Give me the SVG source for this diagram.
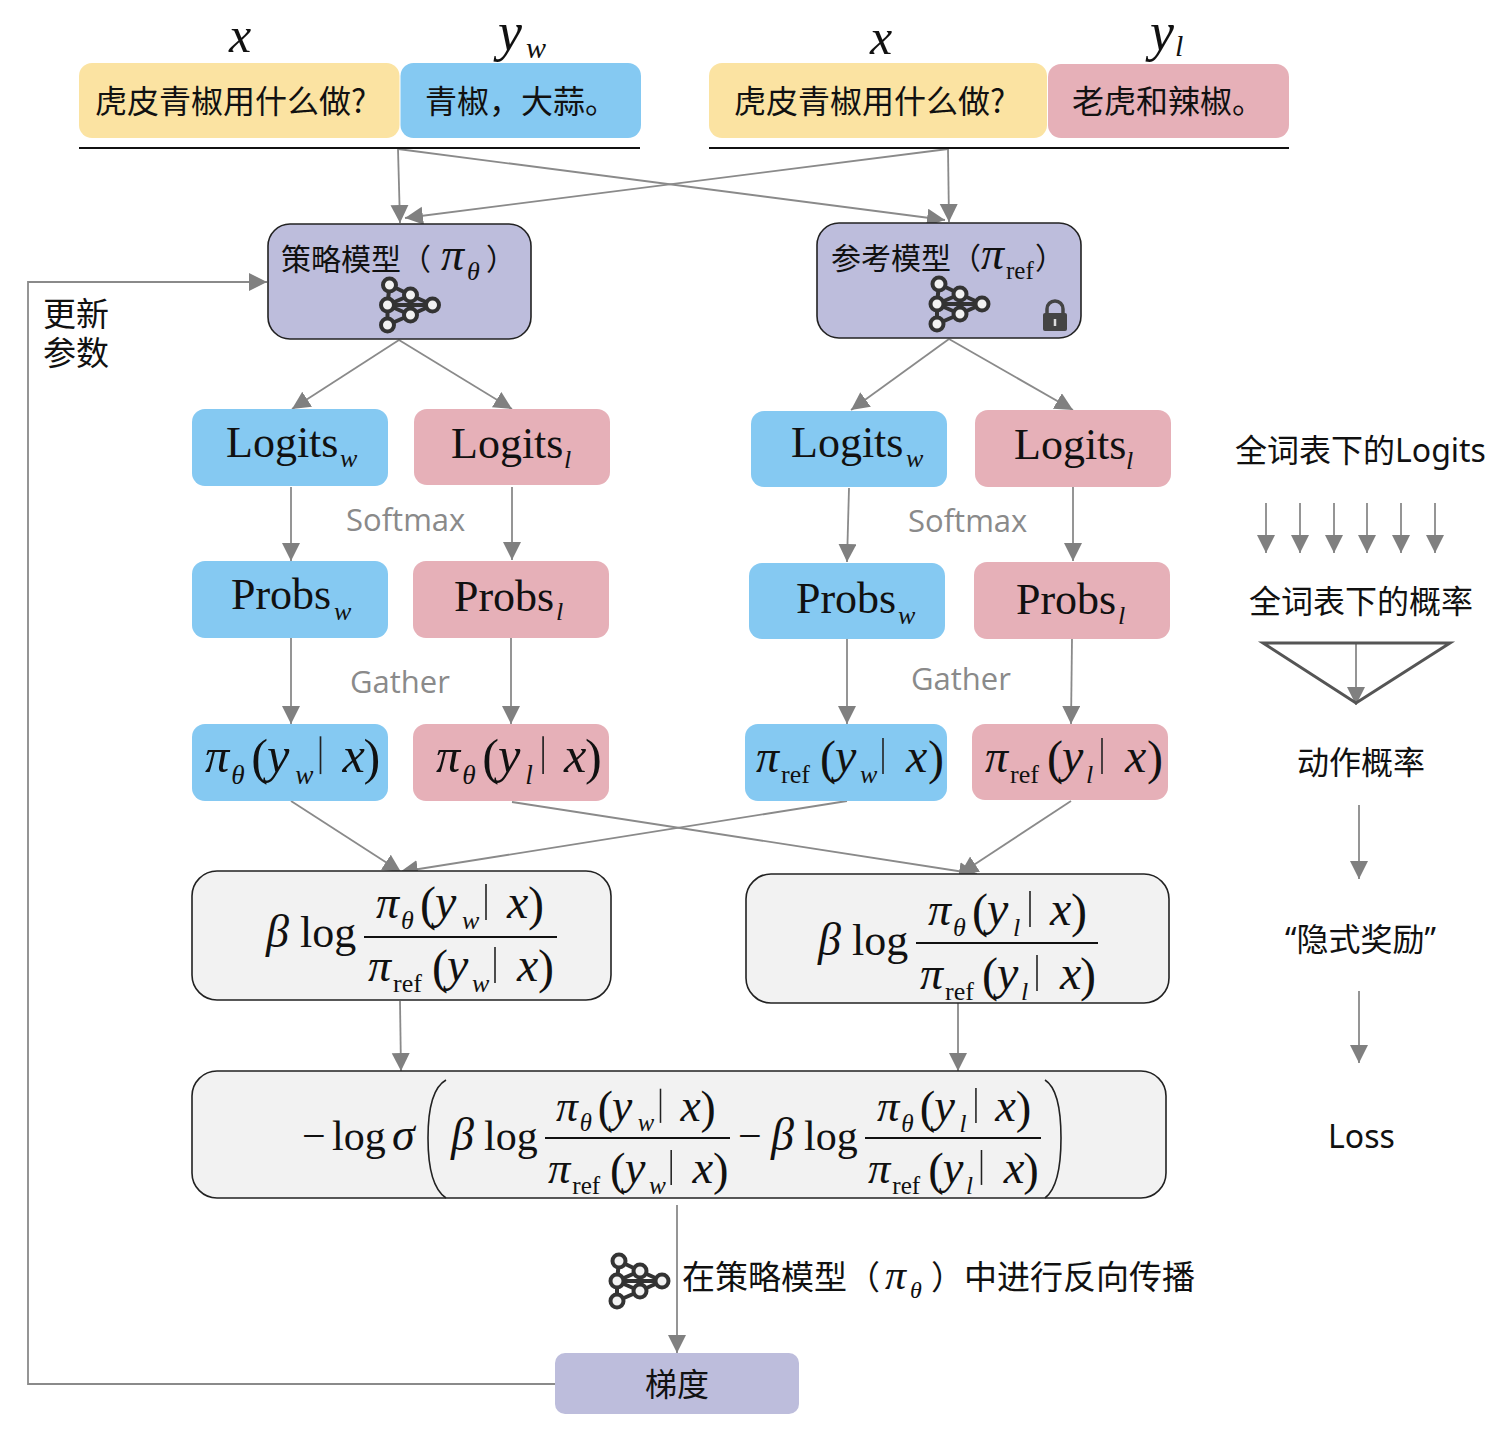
<svg xmlns="http://www.w3.org/2000/svg" xmlns:xlink="http://www.w3.org/1999/xlink" width="1508" height="1448" viewBox="0 0 1508 1448">
<style>
text{fill:#111}
.c{font-family:"Noto Sans CJK SC","Noto Sans",sans-serif;font-size:32px}
.g{font-family:"Open Sans","Noto Sans",sans-serif;font-size:31px;fill:#8a8a8a}
.t{font-family:"Noto Sans",sans-serif;font-size:32px}
.i{font-family:"Liberation Serif",serif;font-style:italic;font-size:46px}
.y{font-family:"Liberation Serif",serif;font-style:italic;font-size:48px}
.r{font-family:"Liberation Serif",serif;font-size:48px}
.n{font-family:"Liberation Serif",serif;font-size:44px}
.s{font-family:"Liberation Serif",serif;font-style:italic;font-size:26px}
.u{font-family:"Liberation Serif",serif;font-size:26px}
.b{stroke:#222;stroke-width:1.6;fill:none}
.bl{fill:#85c9f2}.pk{fill:#e6b0b8}.ye{fill:#fbe3a2}
.la{fill:#bdbddc}.gr{fill:#f2f2f2;stroke:#222;stroke-width:1.6}
.net line{stroke:#333;stroke-width:4}
.net circle{fill:#f2f2f2;stroke:#333;stroke-width:4}
.ar{fill:none;stroke:#8a8a8a;stroke-width:1.8;marker-end:url(#a)}
</style>
<defs>
<marker id="a" markerUnits="userSpaceOnUse" markerWidth="20" markerHeight="20" refX="18" refY="9" orient="auto"><path d="M0 0L18 9L0 18Z" fill="#808080"/></marker>
<g id="netshape" class="net">
<line x1="2" y1="-20" x2="0" y2="0"/><line x1="2" y1="-20" x2="23" y2="-10"/><line x1="0" y1="0" x2="23" y2="-10"/><line x1="0" y1="0" x2="23" y2="10"/><line x1="23" y1="-10" x2="23" y2="10"/><line x1="23" y1="-10" x2="45" y2="0"/><line x1="23" y1="10" x2="45" y2="0"/><line x1="0" y1="0" x2="0" y2="20"/><line x1="0" y1="20" x2="23" y2="10"/><line x1="0" y1="0" x2="45" y2="0"/>
<circle cx="2" cy="-20" r="6.500"/><circle cx="23" cy="-10" r="6.500"/><circle cx="0" cy="0" r="6.500"/><circle cx="45" cy="0" r="6.500"/><circle cx="23" cy="10" r="6.500"/><circle cx="0" cy="20" r="6.500"/>
</g>
</defs>
<rect width="1508" height="1448" fill="#fff"/>
<g id="connectors">
<path class="ar" d="M398 149L400 223"/>
<path class="ar" d="M398 149L945 220"/>
<path class="ar" d="M948 149L405 218"/>
<path class="ar" d="M948 149L949 222"/>
<path class="ar" d="M399 340L292 409"/>
<path class="ar" d="M399 340L512 409"/>
<path class="ar" d="M949 339L851 410"/>
<path class="ar" d="M949 339L1073 410"/>
<path class="ar" d="M291 487V561"/>
<path class="ar" d="M512 487V560"/>
<path class="ar" d="M849 488L847 562"/>
<path class="ar" d="M1073 487V561"/>
<path class="ar" d="M291 638V724"/>
<path class="ar" d="M511 638V724"/>
<path class="ar" d="M847 639V724"/>
<path class="ar" d="M1072 639L1071 724"/>
<path class="ar" d="M291 801L401 872"/>
<path class="ar" d="M847 801L400 872"/>
<path class="ar" d="M512 802L977 874"/>
<path class="ar" d="M1071 801L960 874"/>
<path class="ar" d="M400 1001L401 1071"/>
<path class="ar" d="M958 1003V1071"/>
<path class="ar" d="M677 1205V1353"/>
<path class="ar" d="M555 1384H28V282H267"/>
<path class="ar" d="M1266 503V553"/>
<path class="ar" d="M1300 503V553"/>
<path class="ar" d="M1334 503V553"/>
<path class="ar" d="M1367 503V553"/>
<path class="ar" d="M1401 503V553"/>
<path class="ar" d="M1435 503V553"/>
<path class="ar" d="M1356 643V705"/>
<path class="ar" d="M1359 805V879"/>
<path class="ar" d="M1359 991V1063"/>
</g>
<g id="top-left">
<rect class="ye" x="79" y="63" width="320.500" height="75" rx="13"/>
<rect class="bl" x="400.500" y="63" width="240.500" height="75" rx="13"/>
<text class="c" x="95" y="113">虎皮青椒用什么做?</text>
<text class="c" x="425" y="113">青椒，大蒜。</text>
<path d="M79 148H640" stroke="#111" stroke-width="2"/>
<text class="i" style="font-size:50px" x="229" y="52">x</text>
<text class="i" style="font-size:54px" x="498" y="50">y</text>
<text class="s" style="font-size:30px" x="526" y="58">w</text>
</g>
<g id="top-right">
<rect class="ye" x="709" y="63" width="338" height="75" rx="13"/>
<rect class="pk" x="1048" y="64" width="241" height="74" rx="13"/>
<text class="c" x="734" y="113">虎皮青椒用什么做?</text>
<text class="c" x="1072" y="113">老虎和辣椒。</text>
<path d="M709 148H1289" stroke="#111" stroke-width="2"/>
<text class="i" style="font-size:50px" x="870" y="54">x</text>
<text class="i" style="font-size:54px" x="1150" y="50">y</text>
<text class="s" style="font-size:30px" x="1175" y="56">l</text>
</g>
<g id="policy">
<rect class="la" x="268" y="224" width="263" height="115" rx="22" stroke="#222" stroke-width="1.6"/>
<text class="c" style="font-size:30px" x="281" y="270">策略模型（</text>
<text class="i" x="441" y="270">π</text><text class="s" x="467" y="280">θ</text>
<text class="c" style="font-size:30px" x="486" y="270">）</text>
<use xlink:href="#netshape" href="#netshape" x="387.500" y="305"/>
</g>
<g id="reference">
<rect class="la" x="817" y="223" width="264" height="115" rx="22" stroke="#222" stroke-width="1.6"/>
<text class="c" style="font-size:30px" x="831" y="269">参考模型（</text>
<text class="i" x="981" y="269">π</text><text class="u" style="font-size:25px" x="1006" y="279">ref</text>
<text class="c" style="font-size:30px" x="1035" y="269">）</text>
<use xlink:href="#netshape" href="#netshape" x="937" y="304"/>
<path d="M1047 314V309a8 8 0 0 1 16 0V314" fill="none" stroke="#444" stroke-width="3.500"/>
<rect x="1043" y="313" width="24" height="18" rx="2" fill="#444"/>
<path d="M1055 319v7" stroke="#ddd" stroke-width="2.500"/>
</g>
<g id="logits">
<rect class="bl" x="192" y="409" width="196" height="77" rx="13"/>
<text class="n" x="226" y="457">Logits</text><text class="s" x="340" y="467">w</text>
<rect class="pk" x="414" y="409" width="196" height="76" rx="13"/>
<text class="n" x="451" y="458">Logits</text><text class="s" x="564" y="468">l</text>
<rect class="bl" x="751" y="411" width="196" height="76" rx="13"/>
<text class="n" x="791" y="457">Logits</text><text class="s" x="906" y="467">w</text>
<rect class="pk" x="975" y="410" width="196" height="77" rx="13"/>
<text class="n" x="1014" y="459">Logits</text><text class="s" x="1126" y="469">l</text>
</g>
<g id="probs">
<rect class="bl" x="192" y="561" width="196" height="77" rx="13"/>
<text class="n" x="231" y="609">Probs</text><text class="s" x="334" y="620">w</text>
<rect class="pk" x="413" y="561" width="196" height="77" rx="13"/>
<text class="n" x="454" y="611">Probs</text><text class="s" x="556" y="620">l</text>
<rect class="bl" x="749" y="563" width="196" height="76" rx="13"/>
<text class="n" x="796" y="613">Probs</text><text class="s" x="898" y="624">w</text>
<rect class="pk" x="974" y="562" width="196" height="77" rx="13"/>
<text class="n" x="1016" y="614">Probs</text><text class="s" x="1118" y="624">l</text>
</g>
<g id="operators">
<text class="g" x="346" y="531">Softmax</text>
<text class="g" x="908" y="532">Softmax</text>
<text class="g" x="350" y="693">Gather</text>
<text class="g" x="911" y="690">Gather</text>
</g>
<g id="action-probs">
<rect class="bl" x="192" y="724" width="196" height="77" rx="13"/>
<g transform="translate(205,772) scale(1.05)"><text class="i">π</text><text class="s" x="25" y="11">θ</text><text class="r" x="44" y="2">(</text><text class="y" x="59">y</text><text class="s" x="86" y="11">w</text><path class="b" d="M110-34V2"/><text class="y" x="131">x</text><text class="r" x="151" y="2">)</text></g>
<rect class="pk" x="413" y="724" width="196" height="77" rx="13"/>
<g transform="translate(436,772) scale(1.05)"><text class="i">π</text><text class="s" x="25" y="11">θ</text><text class="r" x="44" y="2">(</text><text class="y" x="59">y</text><text class="s" x="85" y="11">l</text><path class="b" d="M102-34V2"/><text class="y" x="122">x</text><text class="r" x="142" y="2">)</text></g>
<rect class="bl" x="745" y="724" width="202" height="77" rx="13"/>
<g transform="translate(756,772)"><text class="i">π</text><text class="u" x="25" y="11">ref</text><text class="r" x="64" y="2">(</text><text class="y" x="79">y</text><text class="s" x="104" y="11">w</text><path class="b" d="M127-34V2"/><text class="y" x="150">x</text><text class="r" x="172" y="2">)</text></g>
<rect class="pk" x="972" y="724" width="196" height="76" rx="13"/>
<g transform="translate(985,772)"><text class="i">π</text><text class="u" x="25" y="11">ref</text><text class="r" x="62" y="2">(</text><text class="y" x="77">y</text><text class="s" x="101" y="11">l</text><path class="b" d="M117-34V2"/><text class="y" x="140">x</text><text class="r" x="162" y="2">)</text></g>
</g>
<g id="ratio-w">
<rect class="gr" x="192" y="871" width="419" height="129" rx="25"/>
<text class="i" x="266" y="947">β</text><text class="n" x="300" y="947">log</text>
<path d="M364 937H557" stroke="#111" stroke-width="2"/>
<g transform="translate(376,918)"><text class="i">π</text><text class="s" x="25" y="11">θ</text><text class="r" x="44" y="2">(</text><text class="y" x="59">y</text><text class="s" x="86" y="11">w</text><path class="b" d="M110-34V2"/><text class="y" x="131">x</text><text class="r" x="152" y="2">)</text></g>
<g transform="translate(368,981)"><text class="i">π</text><text class="u" x="25" y="11">ref</text><text class="r" x="64" y="2">(</text><text class="y" x="79">y</text><text class="s" x="104" y="11">w</text><path class="b" d="M127-34V2"/><text class="y" x="149">x</text><text class="r" x="170" y="2">)</text></g>
</g>
<g id="ratio-l">
<rect class="gr" x="746" y="874" width="423" height="129" rx="25"/>
<text class="i" x="818" y="955">β</text><text class="n" x="852" y="955">log</text>
<path d="M916 943H1098" stroke="#111" stroke-width="2"/>
<g transform="translate(928,925)"><text class="i">π</text><text class="s" x="25" y="11">θ</text><text class="r" x="44" y="2">(</text><text class="y" x="59">y</text><text class="s" x="85" y="11">l</text><path class="b" d="M102-34V2"/><text class="y" x="122">x</text><text class="r" x="143" y="2">)</text></g>
<g transform="translate(920,989)"><text class="i">π</text><text class="u" x="25" y="11">ref</text><text class="r" x="62" y="2">(</text><text class="y" x="77">y</text><text class="s" x="101" y="11">l</text><path class="b" d="M117-34V2"/><text class="y" x="140">x</text><text class="r" x="160" y="2">)</text></g>
</g>
<g id="loss-formula">
<rect class="gr" x="192" y="1071" width="974" height="127" rx="25"/>
<text class="r" style="font-size:42px" x="302" y="1150">−</text><text class="n" style="font-size:42px" x="332" y="1150">log</text><text class="i" x="392" y="1150">σ</text>
<path class="b" d="M446 1080Q428 1090 428 1138Q428 1186 446 1198"/>
<text class="i" x="451" y="1150">β</text><text class="n" style="font-size:42px" x="484" y="1150">log</text>
<path d="M545 1138H730" stroke="#111" stroke-width="2"/>
<g transform="translate(556,1121) scale(.95)"><text class="i">π</text><text class="s" x="25" y="11">θ</text><text class="r" x="44" y="2">(</text><text class="y" x="59">y</text><text class="s" x="86" y="11">w</text><path class="b" d="M110-34V2"/><text class="y" x="131">x</text><text class="r" x="152" y="2">)</text></g>
<g transform="translate(548,1183) scale(.97)"><text class="i">π</text><text class="u" x="25" y="11">ref</text><text class="r" x="64" y="2">(</text><text class="y" x="79">y</text><text class="s" x="104" y="11">w</text><path class="b" d="M127-34V2"/><text class="y" x="149">x</text><text class="r" x="170" y="2">)</text></g>
<text class="r" style="font-size:42px" x="738" y="1150">−</text>
<text class="i" x="771" y="1150">β</text><text class="n" style="font-size:42px" x="804" y="1150">log</text>
<path d="M865 1138H1041" stroke="#111" stroke-width="2"/>
<g transform="translate(877,1121) scale(.97)"><text class="i">π</text><text class="s" x="25" y="11">θ</text><text class="r" x="44" y="2">(</text><text class="y" x="59">y</text><text class="s" x="85" y="11">l</text><path class="b" d="M102-34V2"/><text class="y" x="122">x</text><text class="r" x="143" y="2">)</text></g>
<g transform="translate(868,1183) scale(.97)"><text class="i">π</text><text class="u" x="25" y="11">ref</text><text class="r" x="62" y="2">(</text><text class="y" x="77">y</text><text class="s" x="101" y="11">l</text><path class="b" d="M117-34V2"/><text class="y" x="140">x</text><text class="r" x="160" y="2">)</text></g>
<path class="b" d="M1045 1080Q1061 1090 1061 1138Q1061 1186 1045 1198"/>
</g>
<g id="backprop">
<use xlink:href="#netshape" href="#netshape" x="617" y="1281"/>
<text class="c" style="font-size:33px" x="682" y="1289">在策略模型（</text>
<text class="i" style="font-size:42px" x="885" y="1289">π</text><text class="s" style="font-size:24px" x="910" y="1298">θ</text>
<text class="c" style="font-size:33px" x="931" y="1289">）中进行反向传播</text>
</g>
<g id="gradient">
<rect class="la" x="555" y="1353" width="244" height="61" rx="10"/>
<text class="c" x="677" y="1396" text-anchor="middle">梯度</text>
</g>
<g id="update-label">
<text class="c" style="font-size:33px"><tspan x="43" y="326">更新</tspan><tspan x="43" y="365">参数</tspan></text>
</g>
<g id="legend">
<text class="c" x="1235" y="462">全词表下的</text><text class="t" x="1395" y="462">Logits</text>
<text class="c" x="1249" y="613">全词表下的概率</text>
<path d="M1263 643H1450L1356 703Z" fill="none" stroke="#555" stroke-width="3"/>
<text class="c" x="1297" y="774">动作概率</text>
<text class="c" x="1285" y="951"><tspan style="font-family:'Noto Sans',sans-serif">“</tspan>隐式奖励<tspan style="font-family:'Noto Sans',sans-serif">”</tspan></text>
<text class="t" x="1328" y="1148">Loss</text>
</g>
</svg>
